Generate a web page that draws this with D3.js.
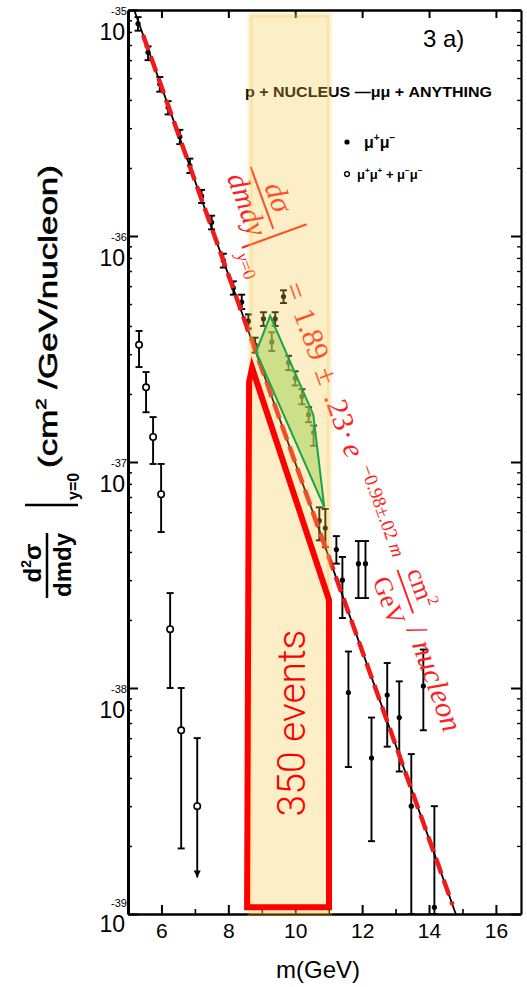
<!DOCTYPE html>
<html><head><meta charset="utf-8">
<script src="https://cdn.jsdelivr.net/npm/d3@7"></script>
<style>body{margin:0;background:#fff}svg{display:block}</style>
</head><body>
<svg id="c" width="527" height="987"></svg>
<script>
// ---------------- data ----------------
const xTickValues = [6, 8, 10, 12, 14, 16];
const xMinorTicks = [7, 9, 11, 13, 15];
const yDecadeExponents = [-35, -36, -37, -38, -39];

// mu+ mu- (filled points)
const oppMass  = [5.30,5.60,5.95,6.20,6.55,6.85,7.20,7.50,7.85,8.15,8.40,8.60,8.80,9.05,9.30,9.40,9.65,9.80,10.00,10.20,10.40,10.55,10.72,10.90,11.23,11.41,11.89,12.10,11.59,12.28,12.75,13.11,13.83,13.47,14.16];
const oppSigma = [8.7e-36,6.5e-36,4.7e-36,3.7e-36,2.75e-36,2.05e-36,1.5e-36,1.15e-36,7.8e-37,5.9e-37,5.1e-37,4.2e-37,3.3e-37,4.3e-37,3.4e-37,4.3e-37,5.4e-37,2.75e-37,2.35e-37,1.95e-37,1.62e-37,1.35e-37,5.5e-38,5.1e-38,4.1e-38,3.0e-38,3.55e-38,3.55e-38,9.55e-39,4.9e-39,9.3e-39,7.4e-39,1.02e-38,3.0e-39,1.07e-39];
const oppLow   = [8.1e-36,6.0e-36,4.35e-36,3.45e-36,2.55e-36,1.9e-36,1.4e-36,1.07e-36,7.25e-37,5.5e-37,4.75e-37,3.9e-37,3.05e-37,4.0e-37,3.1e-37,4.0e-37,5.05e-37,2.55e-37,2.18e-37,1.8e-37,1.5e-37,1.18e-37,4.5e-38,4.2e-38,3.55e-38,2.04e-38,2.5e-38,2.5e-38,4.47e-39,2.1e-39,5.5e-39,4.27e-39,6.5e-39,1.0e-39,1.0e-39];
const oppHigh  = [9.3e-36,6.9e-36,5.05e-36,3.95e-36,2.95e-36,2.2e-36,1.6e-36,1.23e-36,8.35e-37,6.3e-37,5.5e-37,4.5e-37,3.55e-37,4.6e-37,3.75e-37,4.6e-37,5.75e-37,2.95e-37,2.52e-37,2.1e-37,1.75e-37,1.45e-37,6.3e-38,6.2e-38,4.7e-38,3.8e-38,4.47e-38,4.47e-38,1.45e-38,7.4e-39,1.29e-38,1.07e-38,1.48e-38,5.1e-39,3.0e-39];

// mu+mu+ + mu-mu- (open points)
const likeMass  = [5.33,5.54,5.75,5.99,6.26,6.59,7.07];
const likeSigma = [3.3e-37,2.14e-37,1.29e-37,7.2e-38,1.82e-38,6.5e-39,3.0e-39];
const likeLow   = [2.63e-37,1.66e-37,9.8e-38,4.9e-38,1.0e-38,1.95e-39,1.45e-39];
const likeHigh  = [3.8e-37,2.5e-37,1.58e-37,9.8e-38,2.63e-38,1.0e-38,6.0e-39];
const likeUpperLimit = [false,false,false,false,false,false,true];

// exponential fit line (mass, sigma)
const fitLineMass  = [5.18, 14.8];
const fitLineSigma = [1.005e-35, 1.0e-39];
const dashLineMass  = [5.45, 14.7];
const dashLineSigma = [7.76e-36, 1.10e-39];

// highlighted region (Upsilon)
const bandMass  = [8.65, 11.02];
const bandSigma = [1.0e-39, 9.5e-36];
const excessMass  = [8.83, 9.25, 10.54, 10.87];
const excessSigma = [3.07e-37, 4.43e-37, 1.62e-37, 6.3e-38];
const eventsMass  = [8.56, 8.62, 8.71, 11.01, 11.01];
const eventsSigma = [1.07e-39, 2.26e-37, 2.61e-37, 2.45e-38, 1.07e-39];

// ---------------- drawing ----------------
const svg = d3.select('#c');
const x = d3.scaleLinear().domain([5, 16.75]).range([128, 521]);
const y = d3.scaleLog().domain([1e-39, 1e-35]).range([914, 10]);
const SANS = "'Liberation Sans', Arial, sans-serif";
const SERIF = "'Liberation Serif', 'Times New Roman', serif";

function styleAxis(g, w) {
  g.select('.domain').attr('stroke', '#000').attr('stroke-width', w);
  g.selectAll('.tick line').attr('stroke', '#000').attr('stroke-width', 2);
}
const decades = yDecadeExponents.map(e => Math.pow(10, e));
const minorY = [];
for (let e = -39; e < -35; e++) for (let k = 2; k <= 9; k++) minorY.push(k * Math.pow(10, e));

const gBottom = svg.append('g').attr('transform', 'translate(0,914)')
  .call(d3.axisBottom(x).tickValues(xTickValues).tickSizeInner(-9).tickSizeOuter(0).tickPadding(9).tickFormat(d3.format('d')));
styleAxis(gBottom, 2.6);
gBottom.selectAll('text').attr('font-family', SANS).attr('font-size', 21).attr('fill', '#000');
svg.append('g').attr('transform', 'translate(0,914)')
  .call(d3.axisBottom(x).tickValues(xMinorTicks).tickSizeInner(-5).tickSizeOuter(0).tickFormat(''))
  .call(g => { g.select('.domain').remove(); g.selectAll('.tick line').attr('stroke', '#000').attr('stroke-width', 1.6); });

const gTop = svg.append('g').attr('transform', 'translate(0,10)')
  .call(d3.axisTop(x).tickValues(xTickValues).tickSizeInner(-8).tickSizeOuter(0).tickFormat(''));
styleAxis(gTop, 2.6);

const gLeft = svg.append('g').attr('transform', 'translate(128,0)')
  .call(d3.axisLeft(y).tickValues(decades).tickSizeInner(-10).tickSizeOuter(0).tickFormat(''));
styleAxis(gLeft, 3);
svg.append('g').attr('transform', 'translate(128,0)')
  .call(d3.axisLeft(y).tickValues(minorY).tickSizeInner(-4).tickSizeOuter(0).tickFormat(''))
  .call(g => { g.select('.domain').remove(); g.selectAll('.tick line').attr('stroke', '#000').attr('stroke-width', 1.5); });

const gRight = svg.append('g').attr('transform', 'translate(521,0)')
  .call(d3.axisRight(y).tickValues(decades).tickSizeInner(-10).tickSizeOuter(0).tickFormat(''));
styleAxis(gRight, 2.2);
svg.append('g').attr('transform', 'translate(521,0)')
  .call(d3.axisRight(y).tickValues(minorY).tickSizeInner(-4).tickSizeOuter(0).tickFormat(''))
  .call(g => { g.select('.domain').remove(); g.selectAll('.tick line').attr('stroke', '#000').attr('stroke-width', 1.3); });

// y tick labels 10^e
yDecadeExponents.forEach(e => {
  const ty = y(Math.pow(10, e));
  const off = e === -39 ? -12 : 0;
  svg.append('text').attr('x', 125).attr('y', ty + 30 + off).attr('text-anchor', 'end')
    .attr('font-family', SANS).attr('font-size', 23).text('10');
  svg.append('text').attr('x', 127).attr('y', ty + 5 + off).attr('text-anchor', 'end')
    .attr('font-family', SANS).attr('font-size', 11).text(String(e));
});

// x axis title
svg.append('text').attr('x', 318).attr('y', 978).attr('text-anchor', 'middle')
  .attr('font-family', SANS).attr('font-size', 24).text('m(GeV)');

// y axis title
const yt = svg.append('g').attr('transform', 'translate(47,565) rotate(-90)')
  .attr('font-family', SANS).attr('font-weight', 'bold').attr('fill', '#000');
yt.append('line').attr('x1', -33).attr('x2', 32).attr('y1', 0).attr('y2', 0).attr('stroke', '#000').attr('stroke-width', 2.5);
const num = yt.append('text').attr('x', 2).attr('y', -6).attr('text-anchor', 'middle').attr('font-size', 24);
num.append('tspan').text('d');
num.append('tspan').attr('font-size', 14).attr('dy', -10).text('2');
num.append('tspan').attr('dy', 10).text('σ');
yt.append('text').attr('x', 0).attr('y', 24).attr('text-anchor', 'middle').attr('font-size', 24).text('dmdy');
yt.append('line').attr('x1', 60).attr('x2', 60).attr('y1', -22).attr('y2', 31).attr('stroke', '#000').attr('stroke-width', 2.5);
yt.append('text').attr('x', 65).attr('y', 32).attr('font-size', 16).text('y=0');
const unit = yt.append('text').attr('x', 97).attr('y', 10).attr('font-size', 26).attr('font-weight', 'normal')
  .attr('stroke', '#000').attr('stroke-width', 0.6)
  .attr('textLength', 303).attr('lengthAdjust', 'spacingAndGlyphs');
unit.append('tspan').text('(cm');
unit.append('tspan').attr('font-size', 15).attr('dy', -11).text('2');
unit.append('tspan').attr('dy', 11).text(' /GeV/nucleon)');

// panel label, reaction, legend
svg.append('text').attr('x', 423).attr('y', 47).attr('font-family', SANS).attr('font-size', 24).text('3 a)');
svg.append('text').attr('x', 245).attr('y', 97).attr('font-family', SANS).attr('font-weight', 'bold')
  .attr('font-size', 14).attr('textLength', 247).attr('lengthAdjust', 'spacingAndGlyphs')
  .text('p + NUCLEUS —μμ + ANYTHING');
svg.append('circle').attr('cx', 347).attr('cy', 142).attr('r', 2.6).attr('fill', '#000');
const l1 = svg.append('text').attr('x', 364).attr('y', 148).attr('font-family', SANS).attr('font-weight', 'bold').attr('font-size', 16);
l1.append('tspan').text('μ'); l1.append('tspan').attr('font-size', 10).attr('dy', -7).text('+');
l1.append('tspan').attr('dy', 7).text('μ'); l1.append('tspan').attr('font-size', 10).attr('dy', -7).text('−');
svg.append('circle').attr('cx', 347).attr('cy', 174).attr('r', 2.4).attr('fill', '#fff').attr('stroke', '#000').attr('stroke-width', 1.4);
const l2 = svg.append('text').attr('x', 357).attr('y', 179).attr('font-family', SANS).attr('font-weight', 'bold').attr('font-size', 13);
l2.append('tspan').text('μ'); l2.append('tspan').attr('font-size', 8).attr('dy', -6).text('+');
l2.append('tspan').attr('dy', 6).text('μ'); l2.append('tspan').attr('font-size', 8).attr('dy', -6).text('+');
l2.append('tspan').attr('dy', 6).text(' + μ'); l2.append('tspan').attr('font-size', 8).attr('dy', -6).text('−');
l2.append('tspan').attr('dy', 6).text('μ'); l2.append('tspan').attr('font-size', 8).attr('dy', -6).text('−');

// black fit line
const lineGen = d3.line().x(d => x(d[0])).y(d => y(d[1]));
svg.append('path').datum(d3.zip(fitLineMass, fitLineSigma)).attr('d', lineGen)
  .attr('fill', 'none').attr('stroke', '#000').attr('stroke-width', 1.8);

// error bars + points
function drawSeries(mass, val, lo, hi, open, limit) {
  const g = svg.append('g');
  mass.forEach((m, i) => {
    const px = x(m);
    g.append('line').attr('x1', px).attr('x2', px).attr('y1', y(hi[i])).attr('y2', y(lo[i]))
      .attr('stroke', '#000').attr('stroke-width', 1.9);
    g.append('line').attr('x1', px - 3.5).attr('x2', px + 3.5).attr('y1', y(hi[i])).attr('y2', y(hi[i]))
      .attr('stroke', '#000').attr('stroke-width', 1.9);
    if (limit && limit[i]) {
      const ay = y(lo[i]);
      g.append('path').attr('d', `M${px - 3.5},${ay - 7}L${px + 3.5},${ay - 7}L${px},${ay}Z`).attr('fill', '#000');
    } else {
      g.append('line').attr('x1', px - 3.5).attr('x2', px + 3.5).attr('y1', y(lo[i])).attr('y2', y(lo[i]))
        .attr('stroke', '#000').attr('stroke-width', 1.9);
    }
    if (open) {
      g.append('circle').attr('cx', px).attr('cy', y(val[i])).attr('r', 3.2)
        .attr('fill', '#fff').attr('stroke', '#000').attr('stroke-width', 1.6);
    } else {
      g.append('circle').attr('cx', px).attr('cy', y(val[i])).attr('r', 2.6).attr('fill', '#000');
    }
  });
}
drawSeries(oppMass, oppSigma, oppLow, oppHigh, false, null);
drawSeries(likeMass, likeSigma, likeLow, likeHigh, true, likeUpperLimit);

// red dashed fit
svg.append('path').datum(d3.zip(dashLineMass, dashLineSigma)).attr('d', lineGen)
  .attr('fill', 'none').attr('stroke', '#f01a1a').attr('stroke-width', 4.5).attr('stroke-dasharray', '16 7');

// formula annotation
const RED = '#ff1f1f';
const f = svg.append('g').attr('transform', 'translate(250,165) rotate(70)')
  .attr('fill', RED).attr('font-family', SERIF);
f.append('text').attr('x', 40).attr('y', -6).attr('text-anchor', 'middle').attr('font-size', 30).attr('font-style', 'italic').text('dσ');
f.append('line').attr('x1', 2).attr('x2', 68).attr('y1', 0).attr('y2', 0).attr('stroke', RED).attr('stroke-width', 2);
f.append('text').attr('x', 36).attr('y', 26).attr('text-anchor', 'middle').attr('font-size', 30).attr('font-style', 'italic').text('dmdy');
f.append('line').attr('x1', 75).attr('x2', 75).attr('y1', -33).attr('y2', 36).attr('stroke', RED).attr('stroke-width', 2);
const sub = f.append('text').attr('x', 80).attr('y', 44).attr('font-size', 18);
sub.append('tspan').attr('font-style', 'italic').text('y');
sub.append('tspan').text('=0');
[['=', 134], ['1.89', 180], ['±', 224], ['.23', 262], ['·', 287]].forEach(([t, px]) => {
  f.append('text').attr('x', px).attr('y', 10).attr('text-anchor', 'middle').attr('font-size', 30).text(t);
});
f.append('text').attr('x', 303).attr('y', 10).attr('text-anchor', 'middle').attr('font-size', 30).attr('font-style', 'italic').text('e');
const ex = f.append('text').attr('x', 322).attr('y', 0).attr('font-size', 19);
ex.append('tspan').text('−0.98±.02 ');
ex.append('tspan').attr('font-style', 'italic').text('m');
const cm = f.append('text').attr('x', 456).attr('y', -8).attr('text-anchor', 'middle').attr('font-size', 26);
cm.append('tspan').text('cm');
cm.append('tspan').attr('font-size', 16).attr('dy', -10).text('2');
f.append('line').attr('x1', 431).attr('x2', 477).attr('y1', 0).attr('y2', 0).attr('stroke', RED).attr('stroke-width', 2);
f.append('text').attr('x', 457).attr('y', 27).attr('text-anchor', 'middle').attr('font-size', 26).text('GeV');
const nu = f.append('text').attr('x', 490).attr('y', 12).attr('font-size', 30);
nu.append('tspan').text('/ ');
nu.append('tspan').attr('font-style', 'italic').text('nucleon');

// highlighted band
svg.append('rect')
  .attr('x', x(bandMass[0])).attr('y', y(bandSigma[1]))
  .attr('width', x(bandMass[1]) - x(bandMass[0])).attr('height', y(bandSigma[0]) - y(bandSigma[1]))
  .attr('fill', '#f5c842').attr('fill-opacity', 0.3)
  .attr('stroke', '#f5c842').attr('stroke-opacity', 0.25).attr('stroke-width', 5);

// excess (green) polygon
const polyGen = d3.line().x(d => x(d[0])).y(d => y(d[1])).curve(d3.curveLinearClosed);
svg.append('path').datum(d3.zip(excessMass, excessSigma)).attr('d', polyGen)
  .attr('fill', '#a8d45a').attr('fill-opacity', 0.55).attr('stroke', '#17a34a').attr('stroke-width', 2);

// red events polygon
svg.append('path').datum(d3.zip(eventsMass, eventsSigma)).attr('d', polyGen)
  .attr('fill', 'none').attr('stroke', '#ff0000').attr('stroke-width', 6).attr('stroke-linejoin', 'miter');

svg.append('text').attr('transform', 'translate(305,723) rotate(-90)').attr('text-anchor', 'middle')
  .attr('font-family', "Roboto, 'Liberation Sans', sans-serif").attr('font-weight', 300)
  .attr('font-size', 39).attr('fill', '#ff0000').text('350 events');
</script>
</body></html>
